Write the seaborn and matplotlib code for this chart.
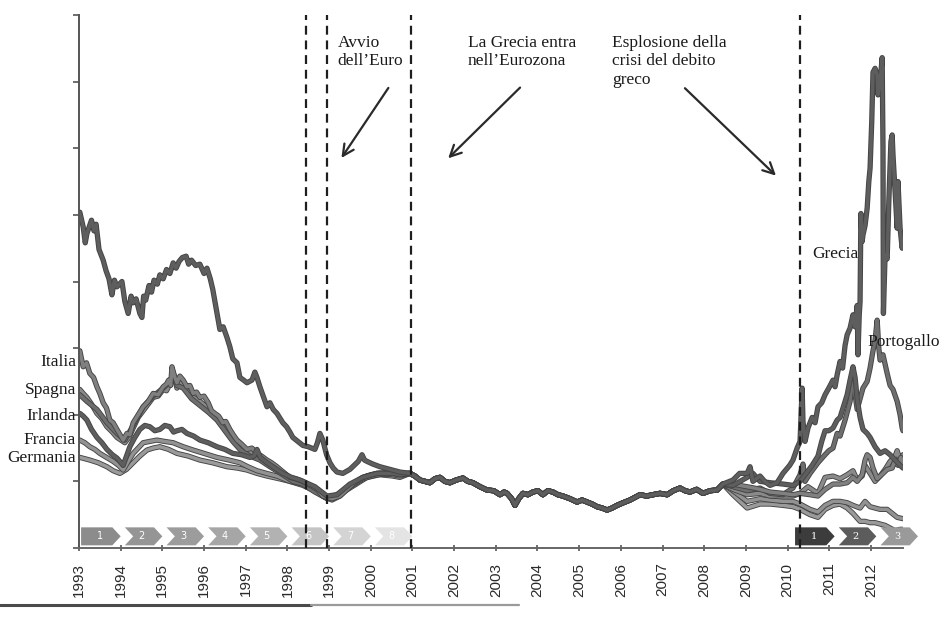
import numpy as np
import pandas as pd
import matplotlib
matplotlib.use("Agg")
import matplotlib.pyplot as plt
import matplotlib.patheffects as pe
from matplotlib.patches import Polygon
from matplotlib.lines import Line2D
import seaborn as sns

# ---------------- data (year, 10y yield %) ----------------
BUNDLE = [(2000.94, 5.6), (2001.06, 5.4), (2001.18, 5.1), (2001.30, 5.0), (2001.42, 4.9), (2001.54, 5.2),
          (2001.66, 5.3), (2001.78, 5.0), (2001.90, 4.9), (2002.05, 5.1), (2002.21, 5.25), (2002.33, 5.0),
          (2002.45, 4.9), (2002.62, 4.6), (2002.79, 4.35), (2002.95, 4.3), (2003.10, 4.0), (2003.20, 4.2),
          (2003.27, 4.1), (2003.38, 3.7), (2003.46, 3.2), (2003.55, 3.7), (2003.65, 4.1), (2003.77, 4.0),
          (2003.89, 4.2), (2004.01, 4.3), (2004.13, 4.0), (2004.25, 4.3), (2004.37, 4.2), (2004.49, 4.0),
          (2004.61, 3.9), (2004.78, 3.7), (2004.95, 3.45), (2005.07, 3.6), (2005.19, 3.45), (2005.31, 3.3),
          (2005.43, 3.1), (2005.55, 3.0), (2005.67, 2.85), (2005.79, 3.0), (2005.91, 3.2), (2006.06, 3.4),
          (2006.22, 3.6), (2006.34, 3.8), (2006.46, 4.0), (2006.62, 3.9), (2006.77, 4.0), (2006.94, 4.1),
          (2007.11, 4.0), (2007.26, 4.3), (2007.42, 4.5), (2007.54, 4.3), (2007.66, 4.2), (2007.82, 4.4),
          (2007.97, 4.1), (2008.14, 4.3), (2008.31, 4.35), (2008.45, 4.8)]

GRECIA_PRE = [(1993.02, 25.2), (1993.10, 24.1), (1993.15, 22.9), (1993.19, 23.6), (1993.30, 24.6), (1993.36, 23.8),
              (1993.41, 24.3), (1993.48, 22.4), (1993.58, 21.6), (1993.65, 20.8), (1993.72, 20.2), (1993.79, 19.0),
              (1993.85, 20.1), (1993.91, 19.6), (1994.03, 20.0), (1994.10, 18.5), (1994.18, 17.6), (1994.25, 18.9),
              (1994.30, 18.4), (1994.37, 18.7), (1994.46, 17.6), (1994.51, 17.3), (1994.55, 18.9), (1994.60, 18.6),
              (1994.68, 19.7), (1994.74, 19.2), (1994.80, 20.1), (1994.88, 19.8), (1994.94, 20.5), (1995.02, 20.2),
              (1995.10, 20.9), (1995.18, 20.6), (1995.26, 21.4), (1995.33, 21.0), (1995.40, 21.5), (1995.48, 21.8),
              (1995.57, 21.9), (1995.63, 21.3), (1995.70, 21.6), (1995.80, 21.2), (1995.90, 21.3), (1996.00, 20.6),
              (1996.07, 21.0), (1996.15, 20.2), (1996.21, 19.4), (1996.30, 17.8), (1996.38, 16.4), (1996.46, 16.6),
              (1996.55, 15.8), (1996.62, 15.1), (1996.69, 14.2), (1996.79, 13.9), (1996.86, 12.8), (1996.95, 12.6),
              (1997.03, 12.4), (1997.15, 12.6), (1997.22, 13.2), (1997.27, 12.8), (1997.34, 12.1), (1997.42, 11.4),
              (1997.51, 10.6), (1997.58, 10.9), (1997.66, 10.4), (1997.75, 10.1), (1997.89, 9.4), (1997.98, 9.1),
              (1998.06, 8.7), (1998.13, 8.3), (1998.25, 8.0), (1998.37, 7.7), (1998.50, 7.6), (1998.66, 7.4),
              (1998.72, 7.9), (1998.78, 8.6), (1998.85, 8.1), (1998.94, 7.0), (1999.02, 6.4), (1999.10, 6.0),
              (1999.19, 5.7), (1999.33, 5.6), (1999.50, 5.9), (1999.60, 6.2), (1999.70, 6.5), (1999.79, 7.0),
              (1999.85, 6.6), (1999.91, 6.5), (2000.05, 6.3), (2000.22, 6.1), (2000.34, 6.0), (2000.46, 5.9),
              (2000.58, 5.8), (2000.70, 5.7)]
GRECIA_POST = [(2008.69, 5.1), (2008.85, 5.6), (2009.03, 5.6), (2009.10, 6.1), (2009.17, 5.0), (2009.34, 5.4),
               (2009.45, 5.0), (2009.58, 4.7), (2009.75, 4.9), (2009.89, 5.6), (2010.05, 6.2), (2010.13, 6.6),
               (2010.23, 7.5), (2010.30, 8.0), (2010.35, 12.0), (2010.37, 9.5), (2010.42, 8.0), (2010.49, 9.0),
               (2010.59, 9.8), (2010.66, 9.4), (2010.73, 10.6), (2010.82, 10.9), (2010.90, 11.5), (2010.99, 12.0),
               (2011.09, 12.6), (2011.14, 12.1), (2011.19, 13.0), (2011.26, 14.0), (2011.32, 13.5), (2011.38, 15.2),
               (2011.43, 16.0), (2011.50, 16.5), (2011.57, 17.5), (2011.62, 16.6), (2011.67, 18.2), (2011.69, 14.5),
               (2011.72, 17.5), (2011.74, 18.5), (2011.76, 25.1), (2011.79, 23.0), (2011.81, 23.5), (2011.86, 24.2),
               (2011.91, 25.5), (2011.95, 27.5), (2011.98, 28.5), (2012.02, 32.0), (2012.05, 35.7), (2012.10, 36.0),
               (2012.15, 35.5), (2012.17, 34.0), (2012.22, 35.0), (2012.27, 36.8), (2012.29, 30.0), (2012.30, 17.6),
               (2012.34, 22.0), (2012.39, 21.7), (2012.43, 26.0), (2012.48, 30.5), (2012.51, 31.0), (2012.53, 29.5),
               (2012.58, 26.8), (2012.63, 24.0), (2012.65, 27.5), (2012.70, 24.0), (2012.75, 22.5), (2012.77, 23.0)]

ITALIA_PRE = [(1993.02, 14.8), (1993.10, 13.6), (1993.18, 13.9), (1993.26, 13.1), (1993.35, 12.8), (1993.43, 12.1),
              (1993.50, 11.6), (1993.58, 10.9), (1993.66, 10.5), (1993.74, 9.6), (1993.82, 9.4), (1993.91, 8.9),
              (1994.06, 8.1), (1994.15, 8.6), (1994.22, 8.5), (1994.30, 9.4), (1994.42, 10.0), (1994.54, 10.6),
              (1994.66, 11.0), (1994.78, 11.6), (1994.90, 11.5), (1995.02, 12.1), (1995.10, 12.3), (1995.15, 12.6),
              (1995.20, 12.2), (1995.23, 13.6), (1995.30, 12.8), (1995.35, 12.4), (1995.42, 12.9), (1995.50, 12.6),
              (1995.59, 12.1), (1995.66, 12.2), (1995.74, 11.6), (1995.82, 11.7), (1995.90, 11.3), (1996.00, 11.4),
              (1996.10, 10.9), (1996.18, 10.3), (1996.26, 10.1), (1996.35, 9.9), (1996.45, 9.4), (1996.52, 9.5),
              (1996.62, 8.9), (1996.70, 8.5), (1996.79, 8.1), (1996.90, 7.8), (1997.03, 7.4), (1997.15, 7.5),
              (1997.27, 7.1), (1997.38, 6.9), (1997.51, 6.6), (1997.62, 6.4), (1997.75, 6.1), (1997.90, 5.7),
              (1998.06, 5.3), (1998.20, 5.2), (1998.37, 5.0), (1998.55, 4.7), (1998.71, 4.4), (1998.85, 3.9),
              (1999.07, 3.7), (1999.26, 3.9), (1999.40, 4.3), (1999.50, 4.6), (1999.65, 5.0), (1999.81, 5.3),
              (2000.00, 5.5), (2000.15, 5.6), (2000.35, 5.6), (2000.53, 5.7), (2000.70, 5.6)]
ITALIA_POST = [(2008.69, 4.8), (2008.85, 4.7), (2009.03, 4.6), (2009.20, 4.5), (2009.34, 4.4), (2009.58, 4.2),
               (2009.89, 4.1), (2010.13, 4.0), (2010.30, 4.1), (2010.54, 4.0), (2010.73, 3.9), (2010.90, 4.4),
               (2011.09, 4.8), (2011.26, 4.8), (2011.43, 4.9), (2011.57, 5.3), (2011.67, 5.0), (2011.79, 5.5),
               (2011.86, 6.6), (2011.91, 7.0), (2011.98, 6.8), (2012.05, 6.0), (2012.15, 5.2), (2012.29, 5.6),
               (2012.39, 5.9), (2012.51, 6.0), (2012.58, 6.6), (2012.65, 6.2), (2012.72, 6.8), (2012.77, 6.3)]

SPAGNA_PRE = [(1993.02, 11.9), (1993.10, 11.6), (1993.19, 11.3), (1993.30, 10.8), (1993.43, 10.1), (1993.55, 9.7),
              (1993.67, 9.1), (1993.80, 8.7), (1993.91, 8.3), (1994.10, 7.9), (1994.20, 8.3), (1994.30, 9.0),
              (1994.42, 9.8), (1994.54, 10.3), (1994.66, 10.8), (1994.78, 11.3), (1994.90, 11.4), (1995.02, 11.9),
              (1995.10, 11.8), (1995.18, 12.3), (1995.26, 13.2), (1995.35, 12.0), (1995.43, 12.5), (1995.50, 12.3),
              (1995.60, 11.8), (1995.70, 11.4), (1995.80, 11.2), (1995.90, 11.0), (1996.10, 10.5), (1996.20, 10.0),
              (1996.31, 9.8), (1996.40, 9.3), (1996.50, 9.0), (1996.60, 8.7), (1996.69, 8.4), (1996.86, 7.8),
              (1996.98, 7.4), (1997.10, 7.2), (1997.22, 7.0), (1997.34, 6.9), (1997.46, 6.5), (1997.58, 6.3),
              (1997.72, 6.0), (1997.89, 5.7), (1998.00, 5.4), (1998.13, 5.1), (1998.37, 4.9), (1998.50, 4.6),
              (1998.66, 4.3), (1998.90, 3.8), (1999.07, 3.6), (1999.26, 3.9), (1999.50, 4.6), (1999.81, 5.2),
              (2000.15, 5.5), (2000.53, 5.6), (2000.70, 5.5)]
SPAGNA_POST = [(2008.69, 4.4), (2009.03, 4.0), (2009.34, 4.1), (2009.58, 3.9), (2009.89, 3.9), (2010.13, 3.9),
               (2010.30, 4.1), (2010.49, 4.6), (2010.73, 4.1), (2010.90, 5.3), (2011.09, 5.4), (2011.26, 5.2),
               (2011.43, 5.5), (2011.57, 5.8), (2011.67, 5.1), (2011.79, 5.4), (2011.86, 6.2), (2011.98, 5.6),
               (2012.10, 5.0), (2012.22, 5.4), (2012.34, 5.9), (2012.46, 6.5), (2012.58, 6.9), (2012.63, 7.3),
               (2012.70, 6.6), (2012.77, 7.0)]

PORTOGALLO_PRE = [(1993.02, 11.5), (1993.19, 11.0), (1993.43, 10.4), (1993.67, 9.4), (1993.91, 8.6), (1994.10, 8.1),
                  (1994.30, 9.2), (1994.54, 10.6), (1994.78, 11.4), (1995.02, 12.0), (1995.18, 12.5), (1995.26, 12.9),
                  (1995.35, 12.2), (1995.50, 12.0), (1995.70, 11.2), (1995.90, 10.7), (1996.10, 10.2), (1996.31, 9.6),
                  (1996.50, 8.8), (1996.69, 8.0), (1996.86, 7.4), (1997.10, 6.9), (1997.34, 6.6), (1997.58, 6.1),
                  (1997.89, 5.5), (1998.13, 5.0), (1998.37, 4.8), (1998.66, 4.2), (1998.90, 3.8), (1999.07, 3.7),
                  (1999.26, 4.0), (1999.50, 4.7), (1999.81, 5.3), (2000.15, 5.6), (2000.53, 5.7), (2000.70, 5.6)]
PORTOGALLO_POST = [(2008.69, 4.6), (2009.03, 4.3), (2009.34, 4.5), (2009.58, 4.1), (2009.89, 4.0), (2010.13, 4.5),
                   (2010.30, 5.5), (2010.37, 6.3), (2010.42, 5.0), (2010.54, 5.6), (2010.73, 6.4), (2010.90, 7.0),
                   (2010.99, 7.3), (2011.09, 7.5), (2011.19, 8.6), (2011.26, 8.4), (2011.38, 9.6), (2011.50, 11.0),
                   (2011.57, 13.1), (2011.62, 11.5), (2011.67, 10.4), (2011.74, 11.2), (2011.81, 12.0), (2011.91, 12.5),
                   (2011.98, 13.5), (2012.05, 14.8), (2012.10, 15.6), (2012.15, 17.1), (2012.19, 15.0), (2012.22, 14.1),
                   (2012.29, 14.5), (2012.39, 13.1), (2012.46, 12.2), (2012.53, 11.9), (2012.63, 11.0), (2012.70, 10.0),
                   (2012.75, 9.0), (2012.77, 8.8)]

IRLANDA_PRE = [(1993.02, 10.1), (1993.10, 9.9), (1993.19, 9.6), (1993.30, 8.9), (1993.43, 8.3), (1993.55, 7.9),
               (1993.67, 7.4), (1993.80, 7.0), (1993.91, 6.75), (1994.06, 6.2), (1994.14, 6.9), (1994.22, 7.6),
               (1994.34, 8.3), (1994.46, 8.9), (1994.58, 9.2), (1994.70, 9.1), (1994.82, 8.8), (1994.94, 8.9),
               (1995.06, 9.2), (1995.18, 9.1), (1995.27, 8.7), (1995.35, 8.8), (1995.47, 8.9), (1995.59, 8.6),
               (1995.75, 8.4), (1995.90, 8.1), (1996.10, 7.9), (1996.31, 7.6), (1996.50, 7.4), (1996.69, 7.1),
               (1996.90, 7.0), (1997.10, 6.8), (1997.20, 6.9), (1997.27, 7.4), (1997.35, 6.8), (1997.51, 6.4),
               (1997.70, 6.0), (1997.89, 5.6), (1998.10, 5.3), (1998.30, 5.1), (1998.66, 4.6), (1998.95, 3.9),
               (1999.19, 4.0), (1999.50, 4.8), (1999.81, 5.3), (2000.15, 5.6), (2000.53, 5.6), (2000.70, 5.5)]
IRLANDA_POST = [(2008.69, 4.7), (2009.03, 5.3), (2009.17, 5.6), (2009.34, 5.0), (2009.58, 4.9), (2009.89, 4.8),
                (2010.13, 4.7), (2010.30, 5.0), (2010.42, 5.5), (2010.59, 6.2), (2010.73, 6.9), (2010.82, 8.0),
                (2010.90, 8.8), (2010.99, 8.8), (2011.09, 9.0), (2011.19, 9.6), (2011.26, 9.8), (2011.38, 11.0),
                (2011.43, 11.5), (2011.50, 12.6), (2011.57, 13.6), (2011.62, 12.8), (2011.67, 11.2), (2011.74, 9.8),
                (2011.81, 8.9), (2011.91, 8.6), (2011.98, 8.3), (2012.10, 7.6), (2012.22, 7.1), (2012.34, 7.3),
                (2012.46, 7.0), (2012.58, 6.6), (2012.70, 6.2), (2012.77, 6.0)]

FRANCIA_PRE = [(1993.02, 8.1), (1993.14, 7.9), (1993.26, 7.6), (1993.38, 7.4), (1993.50, 7.1), (1993.66, 6.8),
               (1993.82, 6.5), (1993.95, 6.2), (1994.06, 5.85), (1994.18, 6.5), (1994.30, 7.1), (1994.42, 7.5),
               (1994.54, 7.9), (1994.70, 8.0), (1994.87, 8.1), (1995.05, 8.0), (1995.26, 7.9), (1995.50, 7.6),
               (1995.74, 7.35), (1996.00, 7.1), (1996.31, 6.8), (1996.60, 6.6), (1996.86, 6.4), (1997.05, 6.1),
               (1997.27, 5.8), (1997.50, 5.6), (1997.75, 5.4), (1998.06, 5.0), (1998.37, 4.8), (1998.71, 4.4),
               (1998.95, 3.8), (1999.19, 4.0), (1999.50, 4.6), (1999.91, 5.4), (2000.22, 5.6), (2000.53, 5.5),
               (2000.70, 5.4)]
FRANCIA_POST = [(2008.69, 4.3), (2009.03, 3.5), (2009.34, 3.7), (2009.58, 3.6), (2009.89, 3.5), (2010.13, 3.5),
                (2010.30, 3.3), (2010.54, 2.9), (2010.73, 2.7), (2010.90, 3.2), (2011.09, 3.5), (2011.26, 3.5),
                (2011.43, 3.4), (2011.57, 3.2), (2011.74, 3.0), (2011.86, 3.5), (2011.98, 3.1), (2012.10, 3.0),
                (2012.22, 2.9), (2012.39, 2.9), (2012.51, 2.6), (2012.63, 2.3), (2012.77, 2.2)]

GERMANIA_PRE = [(1993.02, 6.8), (1993.14, 6.7), (1993.26, 6.6), (1993.46, 6.4), (1993.67, 6.1), (1993.82, 5.8),
                (1993.98, 5.6), (1994.14, 5.9), (1994.30, 6.4), (1994.46, 6.9), (1994.63, 7.35), (1994.78, 7.5),
                (1994.94, 7.6), (1995.15, 7.4), (1995.35, 7.1), (1995.62, 6.9), (1995.90, 6.6), (1996.20, 6.4),
                (1996.55, 6.1), (1996.80, 6.0), (1997.03, 5.85), (1997.27, 5.6), (1997.51, 5.4), (1997.80, 5.2),
                (1998.06, 5.0), (1998.37, 4.7), (1998.71, 4.2), (1998.95, 3.7), (1999.19, 3.9), (1999.50, 4.5),
                (1999.91, 5.3), (2000.22, 5.5), (2000.53, 5.4), (2000.70, 5.3)]
GERMANIA_POST = [(2008.69, 4.0), (2009.03, 3.0), (2009.34, 3.3), (2009.58, 3.3), (2009.89, 3.2), (2010.13, 3.1),
                 (2010.30, 2.9), (2010.54, 2.5), (2010.73, 2.3), (2010.90, 2.9), (2011.09, 3.2), (2011.26, 3.3),
                 (2011.43, 3.0), (2011.57, 2.6), (2011.74, 2.0), (2011.86, 2.0), (2011.98, 1.9), (2012.10, 1.9),
                 (2012.22, 1.8), (2012.34, 1.7), (2012.46, 1.5), (2012.58, 1.3), (2012.70, 1.4), (2012.77, 1.4)]

SERIES = {
    "Germania": GERMANIA_PRE + BUNDLE + GERMANIA_POST,
    "Francia": FRANCIA_PRE + BUNDLE + FRANCIA_POST,
    "Spagna": SPAGNA_PRE + BUNDLE + SPAGNA_POST,
    "Portogallo": PORTOGALLO_PRE + BUNDLE + PORTOGALLO_POST,
    "Italia": ITALIA_PRE + BUNDLE + ITALIA_POST,
    "Irlanda": IRLANDA_PRE + BUNDLE + IRLANDA_POST,
    "Grecia": GRECIA_PRE + BUNDLE + GRECIA_POST,
}
LINE_COLORS = {"Germania": "#9a9a9a", "Francia": "#929292", "Spagna": "#8a8a8a", "Portogallo": "#6e6e6e",
               "Italia": "#808080", "Irlanda": "#5e5e5e", "Grecia": "#5e5e5e"}

YEAR_TICKS = list(range(1993, 2013))
EVENT_LINES = [1998.45, 1998.95, 2000.97, 2010.30]
PHASE1_START = [1993.05, 1994.05, 1995.05, 1996.05, 1997.05, 1998.05, 1999.05, 2000.05]
PHASE1_LABELS = ["1", "2", "3", "4", "5", "6", "7", "8"]
PHASE1_COLORS = ["#8c8c8c", "#959595", "#9c9c9c", "#a6a6a6", "#b2b2b2", "#c4c4c4", "#d4d4d4", "#e4e4e4"]
PHASE2_START = [2010.18, 2011.18, 2012.18]
PHASE2_LABELS = ["1", "2", "3"]
PHASE2_COLORS = ["#3c3c3c", "#5c5c5c", "#9a9a9a"]

LEFT_LABELS = ["Italia", "Spagna", "Irlanda", "Francia", "Germania"]
LEFT_LABEL_Y = [13.95, 11.85, 9.9, 8.1, 6.75]

# ---------------- build long-form frame ----------------
rows = []
for name, pts in SERIES.items():
    for yr, v in pts:
        rows.append({"anno": yr, "rendimento": v, "paese": name})
df = pd.DataFrame(rows)

sns.set_theme(style="white")
plt.rcParams["font.family"] = ["Liberation Serif", "DejaVu Serif"]

W, H = 943, 622
fig = plt.figure(figsize=(W / 100, H / 100), dpi=100)
ax = fig.add_axes([79 / W, 74 / H, 824 / W, 533 / H])

sns.lineplot(data=df, x="anno", y="rendimento", hue="paese", hue_order=list(SERIES.keys()),
             palette=LINE_COLORS, estimator=None, sort=False, legend=False, linewidth=2.5, ax=ax)
for ln in ax.lines:
    ln.set_path_effects([pe.Stroke(linewidth=3.8, foreground="#444444"), pe.Normal()])
    ln.set_solid_joinstyle("round")

ax.set_xlim(1993.0, 2012.77)
ax.set_ylim(0, 40)
ax.set_xlabel("")
ax.set_ylabel("")

# event dashed lines
for xv in EVENT_LINES:
    ax.axvline(xv, ymin=0, ymax=1, color="#1e1e1e", lw=1.6, ls=(0, (4, 2.6)), zorder=5)

# spines and ticks
for s in ["top", "right"]:
    ax.spines[s].set_visible(False)
ax.spines["left"].set_color("#555555")
ax.spines["left"].set_linewidth(1.4)
ax.spines["bottom"].set_color("#666666")
ax.spines["bottom"].set_linewidth(1.4)
ax.set_yticks(np.arange(0, 41, 5))
ax.set_yticklabels([])
ax.tick_params(axis="y", direction="out", length=4, width=1.2, color="#555555", left=True)
ax.set_xticks(YEAR_TICKS)
ax.set_xticklabels([str(y) for y in YEAR_TICKS], rotation=90, fontsize=11,
                   family=["Liberation Sans", "DejaVu Sans"], color="#2a2a2a")
ax.tick_params(axis="x", direction="inout", length=5, width=1.2, color="#555555", bottom=True, pad=8)
ax.grid(False)

# chevron stage bars
def chevron(x0, x1, y0, y1, first):
    d = 0.2
    ym = (y0 + y1) / 2
    pts = [(x0, y0), (x1 - d, y0), (x1, ym), (x1 - d, y1), (x0, y1)]
    if not first:
        pts.append((x0 + d, ym))
    return pts

yb0, yb1 = 0.2, 1.55
for i, (x0, lab, col) in enumerate(zip(PHASE1_START, PHASE1_LABELS, PHASE1_COLORS)):
    poly = Polygon(chevron(x0 + (0.05 if i else 0), x0 + 0.95, yb0, yb1, i == 0), closed=True,
                   facecolor=col, edgecolor="none", zorder=4)
    ax.add_patch(poly)
    ax.text(x0 + 0.45, (yb0 + yb1) / 2, lab, color="white", fontsize=7, ha="center", va="center",
            family=["DejaVu Sans"], zorder=6)
for i, (x0, lab, col) in enumerate(zip(PHASE2_START, PHASE2_LABELS, PHASE2_COLORS)):
    poly = Polygon(chevron(x0 + (0.05 if i else 0), x0 + 0.95, yb0, yb1, i == 0), closed=True,
                   facecolor=col, edgecolor="none", zorder=4, clip_on=False)
    ax.add_patch(poly)
    ax.text(x0 + 0.45, (yb0 + yb1) / 2, lab, color="white", fontsize=7, ha="center", va="center",
            family=["DejaVu Serif"], zorder=6, clip_on=False)

# country labels on the left
for lab, yv in zip(LEFT_LABELS, LEFT_LABEL_Y):
    ax.text(1992.93, yv, lab, ha="right", va="center", fontsize=12.5, color="#1a1a1a", clip_on=False)
ax.text(2011.14, 22.05, "Grecia", ha="center", va="center", fontsize=12.5, color="#1a1a1a", zorder=7)
ax.text(2011.91, 15.45, "Portogallo", ha="left", va="center", fontsize=12.5, color="#1a1a1a",
        clip_on=False, zorder=7)

# event annotations
txt_kw = dict(fontsize=12.5, color="#1a1a1a", ha="left", va="top", linespacing=1.2)
ax.text(1999.21, 38.5, "Avvio\ndell\u2019Euro", **txt_kw)
ax.text(2002.33, 38.5, "La Grecia entra\nnell\u2019Eurozona", **txt_kw)
ax.text(2005.79, 38.5, "Esplosione della\ncrisi del debito\ngreco", **txt_kw)
arr_kw = dict(arrowstyle="->", lw=1.6, color="#2a2a2a", mutation_scale=20)
ax.annotate("", xy=(1999.26, 29.1), xytext=(2000.46, 34.7), arrowprops=arr_kw)
ax.annotate("", xy=(2001.81, 29.1), xytext=(2003.63, 34.7), arrowprops=arr_kw)
ax.annotate("", xy=(2009.77, 27.8), xytext=(2007.49, 34.65), arrowprops=arr_kw)

# page rule at the bottom
fig.add_artist(Line2D([0.0, 0.33], [17 / H, 17 / H], color="#4a4a4a", lw=2.2, transform=fig.transFigure))
fig.add_artist(Line2D([0.33, 0.55], [17 / H, 17 / H], color="#9a9a9a", lw=1.6, transform=fig.transFigure))

fig.savefig("out.png", dpi=100, facecolor="white")
